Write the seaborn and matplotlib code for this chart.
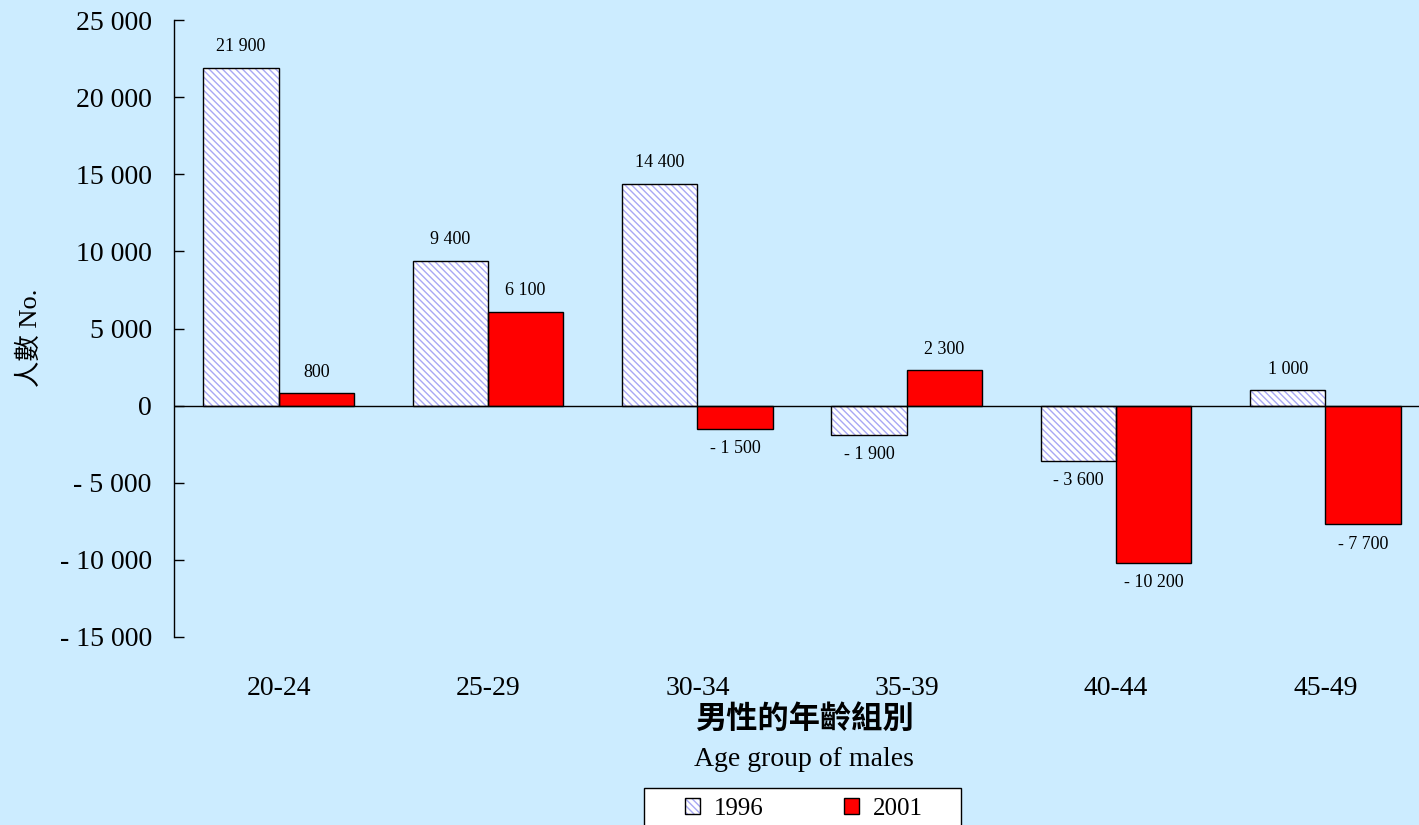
import matplotlib
matplotlib.use("Agg")
import matplotlib.pyplot as plt
from matplotlib.patches import Rectangle, Patch
import pandas as pd
import seaborn as sns

# Net change in male population by age group
age_groups = ["20-24", "25-29", "30-34", "35-39", "40-44", "45-49"]
years = ["1996", "2001"]
values_1996 = [21900, 9400, 14400, -1900, -3600, 1000]
values_2001 = [800, 6100, -1500, 2300, -10200, -7700]
y_ticks = [25000, 20000, 15000, 10000, 5000, 0, -5000, -10000, -15000]

BG = "#CCECFF"
HATCH_COLOR = "#A8A8F4"
HATCH = "\\" * 5

sns.set_theme(style="white")
plt.rcParams["font.family"] = ["Liberation Serif", "Noto Sans CJK TC"]
plt.rcParams["hatch.linewidth"] = 1.0
for key in ["text.color", "axes.labelcolor", "xtick.color", "ytick.color"]:
    plt.rcParams[key] = "black"


def fmt(v):
    s = f"{abs(int(v)):,}".replace(",", " ")
    return f"- {s}" if v < 0 else s


df = pd.DataFrame({
    "age": age_groups * 2,
    "year": [years[0]] * len(age_groups) + [years[1]] * len(age_groups),
    "value": values_1996 + values_2001,
})

W, H = 1419, 825
fig = plt.figure(figsize=(W / 100, H / 100), dpi=100, facecolor=BG)
ax = fig.add_axes([174 / W, 1 - 637 / H, 1256 / W, 617 / H])
ax.set_facecolor(BG)

sns.barplot(data=df, x="age", y="value", hue="year", order=age_groups,
            hue_order=years, palette=["white", "#FF0000"], saturation=1,
            width=0.72, gap=0, edgecolor="black", linewidth=1.0,
            legend=False, ax=ax)

# Hatched fill for the earlier year, with a black outline drawn on top
for bar in ax.containers[0]:
    bar.set_hatch(HATCH)
    bar.set_edgecolor(HATCH_COLOR)
    bar.set_linewidth(0)
    ax.add_patch(Rectangle(bar.get_xy(), bar.get_width(), bar.get_height(),
                           fill=False, edgecolor="black", linewidth=1.0,
                           zorder=bar.get_zorder() + 0.1))

# Value labels
for cont in ax.containers:
    for bar in cont:
        h = bar.get_height()
        x = bar.get_x() + bar.get_width() / 2
        if h >= 0:
            ax.annotate(fmt(h), (x, h), xytext=(0, 9), textcoords="offset points",
                        ha="center", va="bottom", fontsize=13)
        else:
            ax.annotate(fmt(h), (x, h), xytext=(0, -8), textcoords="offset points",
                        ha="center", va="top", fontsize=13)

ax.axhline(0, color="black", linewidth=1.0, zorder=1)

ax.set_xlim(-0.5, 5.5)
ax.set_ylim(-15000, 25000)
ax.set_yticks(y_ticks)
ax.set_yticklabels([fmt(v) for v in y_ticks])
ax.tick_params(axis="y", direction="in", length=7, width=1, color="black",
               pad=16, labelsize=20, left=True)
ax.tick_params(axis="x", length=0, pad=28, labelsize=20)

for side in ["top", "right", "bottom"]:
    ax.spines[side].set_visible(False)
ax.spines["left"].set_color("black")
ax.spines["left"].set_linewidth(1.0)
ax.set_xlabel("")
ax.set_ylabel("")

fig.text(30 / W, 1 - 338 / H, "人數 No.", rotation=90, ha="center",
         va="center", fontsize=19)
fig.text(804 / W, 1 - 719 / H, "男性的年齡組別", ha="center", va="center",
         fontsize=22.5, fontweight="bold", family=["Noto Sans CJK TC"])
fig.text(804 / W, 1 - 760 / H, "Age group of males", ha="center",
         va="center", fontsize=20)

# Legend box running off the bottom edge
fig.patches.append(Rectangle((644 / W, -0.05), (961 - 644) / W,
                             1 - 788 / H + 0.05,
                             transform=fig.transFigure, facecolor="white",
                             edgecolor="black", linewidth=1.0, zorder=1))
handles = [
    (Patch(facecolor="white", edgecolor=HATCH_COLOR, hatch=HATCH, linewidth=0),
     Patch(fill=False, edgecolor="black", linewidth=1.0)),
    Patch(facecolor="#FF0000", edgecolor="black", linewidth=1.0),
]
leg = fig.legend(handles, years, loc="center left",
                 bbox_to_anchor=(685 / W, 1 - 809 / H), ncol=2,
                 fontsize=18, frameon=False, handlelength=0.6,
                 handleheight=0.6, handletextpad=0.56, columnspacing=3.2,
                 borderpad=0, borderaxespad=0)
leg.set_zorder(2)

fig.savefig("out.png", dpi=100, facecolor=BG)
